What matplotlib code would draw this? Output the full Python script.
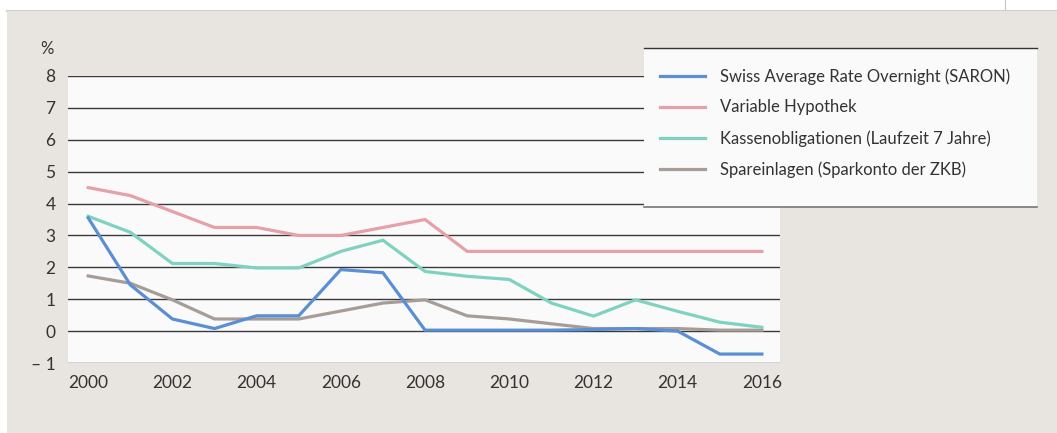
import matplotlib.pyplot as plt
from matplotlib.patches import Rectangle
from matplotlib.lines import Line2D

plt.rcParams['font.family'] = ['Lato', 'DejaVu Sans']

years = list(range(2000, 2017))
saron = [3.55, 1.45, 0.38, 0.08, 0.48, 0.48, 1.93, 1.83, 0.03, 0.03, 0.03, 0.03, 0.05, 0.08, 0.0, -0.72, -0.72]
hypothek = [4.5, 4.25, 3.75, 3.25, 3.25, 3.0, 3.0, 3.25, 3.5, 2.5, 2.5, 2.5, 2.5, 2.5, 2.5, 2.5, 2.5]
kasse = [3.6, 3.1, 2.12, 2.12, 1.98, 1.98, 2.5, 2.85, 1.87, 1.72, 1.62, 0.88, 0.47, 0.98, 0.62, 0.28, 0.12]
spar = [1.73, 1.5, 0.98, 0.38, 0.38, 0.38, 0.63, 0.88, 0.98, 0.48, 0.38, 0.23, 0.08, 0.08, 0.08, 0.03, 0.03]

labels = ["Swiss Average Rate Overnight (SARON)", "Variable Hypothek",
          "Kassenobligationen (Laufzeit 7 Jahre)", "Spareinlagen (Sparkonto der ZKB)"]
colors = ["#5b8fd3", "#e6a0a7", "#7fd2c0", "#a69d99"]

yticks = [-1, 0, 1, 2, 3, 4, 5, 6, 7, 8]
ytick_labels = ["\u2013 1"] + [str(v) for v in yticks[1:]]
xticks = list(range(2000, 2017, 2))

W, H = 1057, 433
fig = plt.figure(figsize=(W / 100, H / 100), dpi=100)
fig.patch.set_facecolor("white")

# beige panel and top strip
fig.patches.append(Rectangle((7 / W, 0), 1 - 7 / W, 1 - 11 / H, transform=fig.transFigure,
                             facecolor="#e8e5e0", edgecolor="none", zorder=-1))
fig.lines.append(Line2D([7 / W, 1], [1 - 11 / H, 1 - 11 / H], transform=fig.transFigure,
                        color="#d0cecb", lw=1.5, zorder=-1))
fig.lines.append(Line2D([1005 / W, 1005 / W], [1 - 11 / H, 1], transform=fig.transFigure,
                        color="#c8c8c8", lw=0.8, zorder=-1))

ax = fig.add_axes([68 / W, 1 - 363 / H, 712 / W, 287 / H])
ax.set_zorder(1)
ax.set_facecolor("#fafafa")
for s in ax.spines.values():
    s.set_visible(False)

for v in yticks:
    ax.axhline(v, color="#3a3a3a", lw=1.0, zorder=1)

series = [saron, hypothek, kasse, spar]
# saron drawn last so it sits on top
for vals, c in zip(series[::-1], colors[::-1]):
    ax.plot(years, vals, color=c, lw=2.3, zorder=3, solid_joinstyle="miter")

ax.set_xlim(1999.52, 2016.43)
ax.set_ylim(-1, 8)
ax.set_yticks(yticks)
ax.set_yticklabels(ytick_labels)
ax.set_xticks(xticks)
ax.tick_params(length=0, labelsize=12.5, colors="#333333")
ax.tick_params(axis="y", pad=9)
ax.tick_params(axis="x", pad=9)

fig.text(47 / W, 1 - 49 / H, "%", ha="center", va="center", fontsize=12, color="#333333")

# legend box
lx0, lx1, ly0, ly1 = 644, 1037, 48, 207
fig.patches.append(Rectangle((lx0 / W, 1 - ly1 / H), (lx1 - lx0) / W, (ly1 - ly0) / H,
                             transform=fig.transFigure, facecolor="#fafafa",
                             edgecolor="none", zorder=5))
fig.lines.append(Line2D([lx0 / W, lx1 / W], [1 - ly0 / H] * 2, transform=fig.transFigure,
                        color="#333333", lw=1.0, zorder=6))
fig.lines.append(Line2D([lx0 / W, lx1 / W], [1 - ly1 / H] * 2, transform=fig.transFigure,
                        color="#777777", lw=1.2, zorder=6))

handles = [Line2D([0], [0], color=c, lw=2.3) for c in colors]
leg = fig.legend(handles, labels, loc="upper left", bbox_to_anchor=(660 / W, 1 - 68 / H),
                 frameon=False, fontsize=12, handlelength=2.7, handletextpad=0.9,
                 labelspacing=0.89, borderaxespad=0, borderpad=0)
for t in leg.get_texts():
    t.set_color("#333333")
leg.set_zorder(7)

fig.savefig("out.png", dpi=100)
